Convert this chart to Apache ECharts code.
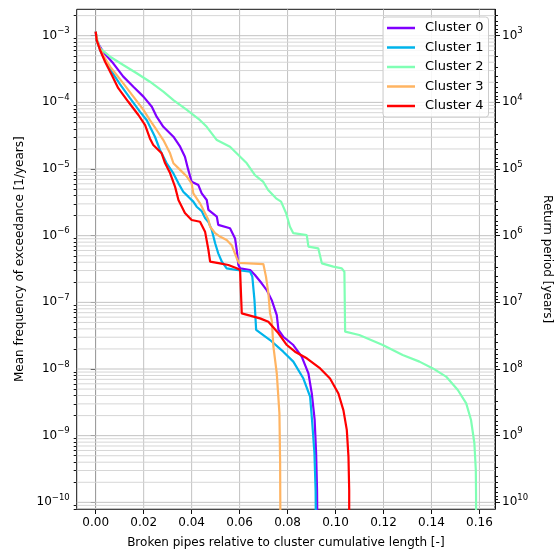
<!DOCTYPE html>
<html><head><meta charset="utf-8">
<script src="https://cdn.jsdelivr.net/npm/echarts@6/dist/echarts.min.js"></script>
<style>html,body{margin:0;padding:0;background:#fff}#c{width:556px;height:553px}</style>
</head><body><div id="c"></div>
<script>
// ---------------- data ----------------
const clusterNames = ['Cluster 0', 'Cluster 1', 'Cluster 2', 'Cluster 3', 'Cluster 4'];

const x0 = [0, 0.0004, 0.0018, 0.0036, 0.0073, 0.0115, 0.0157, 0.0199, 0.0234, 0.0254, 0.0282, 0.0324, 0.0352, 0.0372, 0.0386, 0.0400, 0.0428, 0.0442, 0.0463, 0.0470, 0.0505, 0.0511, 0.0560, 0.0581, 0.0588, 0.0595, 0.0602, 0.0644, 0.0664, 0.0692, 0.0713, 0.0734, 0.0755, 0.0762, 0.0782, 0.0824, 0.0859, 0.0887, 0.0901, 0.0913, 0.0919, 0.0923, 0.0924];
const y0 = [1.15e-3, 8.6e-4, 6.8e-4, 5.44e-4, 3.85e-4, 2.43e-4, 1.72e-4, 1.22e-4, 8.6e-5, 6.1e-5, 4.3e-5, 3.05e-5, 2.16e-5, 1.53e-5, 9.7e-6, 6.45e-6, 5.75e-6, 4.32e-6, 3.43e-6, 2.43e-6, 1.93e-6, 1.45e-6, 1.29e-6, 9.1e-7, 6.1e-7, 3.63e-7, 3.24e-7, 3.06e-7, 2.57e-7, 1.93e-7, 1.53e-7, 1.08e-7, 6.45e-8, 3.85e-8, 3.05e-8, 2.29e-8, 1.53e-8, 8.6e-9, 4.3e-9, 1.72e-9, 5.5e-10, 1.5e-10, 5e-11];

const x1 = [0, 0.0004, 0.0018, 0.0039, 0.0068, 0.0101, 0.0143, 0.0185, 0.0213, 0.0247, 0.0268, 0.0296, 0.0324, 0.0345, 0.0365, 0.0386, 0.0407, 0.0421, 0.0442, 0.0456, 0.0470, 0.0484, 0.0498, 0.0511, 0.0526, 0.0546, 0.0588, 0.0644, 0.0653, 0.0662, 0.0669, 0.0727, 0.0782, 0.0824, 0.0866, 0.0894, 0.0902, 0.0912, 0.0917, 0.0918];
const y1 = [1.15e-3, 8.6e-4, 6.1e-4, 4.3e-4, 2.85e-4, 1.88e-4, 1.16e-4, 7.2e-5, 5.4e-5, 3.05e-5, 1.93e-5, 1.22e-5, 8.6e-6, 6.1e-6, 4.57e-6, 3.85e-6, 3.24e-6, 2.72e-6, 2.34e-6, 1.84e-6, 1.6e-6, 1.22e-6, 7.7e-7, 5.44e-7, 4.07e-7, 3.24e-7, 3.06e-7, 2.88e-7, 2.43e-7, 1.08e-7, 3.85e-8, 2.72e-8, 1.82e-8, 1.29e-8, 7.2e-9, 3.85e-9, 1.72e-9, 5.5e-10, 1.5e-10, 5e-11];

const x2 = [0, 0.0008, 0.0018, 0.0060, 0.0115, 0.0171, 0.0226, 0.0282, 0.0324, 0.0380, 0.0435, 0.0463, 0.0505, 0.0560, 0.0595, 0.0630, 0.0664, 0.0699, 0.0719, 0.0752, 0.0773, 0.0794, 0.0810, 0.0824, 0.0880, 0.0887, 0.0928, 0.0943, 0.0991, 0.1026, 0.1037, 0.1040, 0.1099, 0.1197, 0.1280, 0.1350, 0.1406, 0.1461, 0.1510, 0.1545, 0.1565, 0.1579, 0.1585, 0.1586, 0.1586];
const y2 = [1.15e-3, 8.2e-4, 6.47e-4, 4.84e-4, 3.63e-4, 2.73e-4, 2.04e-4, 1.45e-4, 1.08e-4, 7.7e-5, 5.4e-5, 4.3e-5, 2.72e-5, 2.16e-5, 1.62e-5, 1.22e-5, 8.1e-6, 6.4e-6, 4.84e-6, 3.63e-6, 3.24e-6, 2.17e-6, 1.36e-6, 1.09e-6, 1.02e-6, 6.84e-7, 6.46e-7, 3.85e-7, 3.43e-7, 3.24e-7, 2.88e-7, 3.63e-8, 3.24e-8, 2.29e-8, 1.62e-8, 1.29e-8, 1.02e-8, 7.7e-9, 4.84e-9, 3.05e-9, 1.72e-9, 7.7e-10, 3.05e-10, 1.3e-10, 5e-11];

const x3 = [0, 0.0004, 0.0018, 0.0035, 0.0060, 0.0115, 0.0157, 0.0199, 0.0226, 0.0254, 0.0282, 0.0310, 0.0324, 0.0352, 0.0380, 0.0400, 0.0407, 0.0435, 0.0456, 0.0470, 0.0477, 0.0498, 0.0518, 0.0546, 0.0567, 0.0588, 0.0598, 0.0699, 0.0706, 0.0710, 0.0720, 0.0727, 0.0734, 0.0741, 0.0755, 0.0766, 0.0769, 0.0770];
const y3 = [1.15e-3, 8.6e-4, 6.3e-4, 4.8e-4, 3.43e-4, 1.93e-4, 1.22e-4, 7.7e-5, 5.4e-5, 3.85e-5, 2.72e-5, 1.72e-5, 1.22e-5, 9.7e-6, 7.7e-6, 6.1e-6, 4.32e-6, 3.06e-6, 2.17e-6, 1.72e-6, 1.36e-6, 1.09e-6, 9.7e-7, 8.6e-7, 7.2e-7, 4.6e-7, 3.9e-7, 3.75e-7, 3.5e-7, 2.43e-7, 1.36e-7, 6.84e-8, 5.4e-8, 2.16e-8, 8.6e-9, 2.16e-9, 3.9e-10, 5e-11];

const x4 = [0, 0.0004, 0.0018, 0.0039, 0.0067, 0.0094, 0.0136, 0.0178, 0.0206, 0.0226, 0.0240, 0.0275, 0.0289, 0.0310, 0.0331, 0.0345, 0.0372, 0.0400, 0.0435, 0.0456, 0.0470, 0.0477, 0.0518, 0.0553, 0.0588, 0.0602, 0.0609, 0.0685, 0.0720, 0.0762, 0.0797, 0.0831, 0.0880, 0.0936, 0.0977, 0.1012, 0.1033, 0.1047, 0.1054, 0.1057, 0.1057];
const y4 = [1.15e-3, 8.6e-4, 6.1e-4, 4.07e-4, 2.57e-4, 1.63e-4, 1.02e-4, 6.46e-5, 4.57e-5, 2.88e-5, 2.29e-5, 1.72e-5, 1.23e-5, 8.7e-6, 5.4e-6, 3.43e-6, 2.19e-6, 1.72e-6, 1.62e-6, 1.15e-6, 6.1e-7, 4.07e-7, 3.85e-7, 3.63e-7, 3.24e-7, 3.06e-7, 6.84e-8, 5.75e-8, 5.1e-8, 3.43e-8, 2.29e-8, 1.82e-8, 1.45e-8, 1.02e-8, 7.2e-9, 4.3e-9, 2.4e-9, 1.22e-9, 4.8e-10, 1.5e-10, 5e-11];

const xTicks = [0, 0.02, 0.04, 0.06, 0.08, 0.10, 0.12, 0.14, 0.16];
const freqExponents = [-10, -9, -8, -7, -6, -5, -4, -3];
const returnExponents = [3, 4, 5, 6, 7, 8, 9, 10];
const minorFactors = [2, 3, 4, 5, 6, 7, 8, 9];

// ---------------- styling / layout ----------------
const colors = ['#8000ff', '#00b4eb', '#80ffb4', '#ffb462', '#ff0000'];
const X_MIN = -0.00793, X_MAX = 0.1665;
const LOG_LO = -10.1, LOG_HI = -2.604;
const Y_MIN = Math.pow(10, LOG_LO), Y_MAX = Math.pow(10, LOG_HI);
const R_MIN = Math.pow(10, -LOG_HI), R_MAX = Math.pow(10, -LOG_LO);

const xs = [x0, x1, x2, x3, x4];
const ys = [y0, y1, y2, y3, y4];

const freqMajor = freqExponents.map(e => Math.pow(10, e));
const retMajor = returnExponents.map(e => Math.pow(10, e));
const freqMinor = [];
for (let e = -11; e <= -3; e++) minorFactors.forEach(f => { const v = f * Math.pow(10, e); if (v > Y_MIN && v < Y_MAX) freqMinor.push(v); });
const retMinor = [];
for (let e = 2; e <= 10; e++) minorFactors.forEach(f => { const v = f * Math.pow(10, e); if (v > R_MIN && v < R_MAX) retMinor.push(v); });

const TXT = '#000';
const sup = v => {
  const e = Math.round(Math.log10(v));
  return '{b|10}{s|' + (e < 0 ? '\u2212' + (-e) : String(e)) + '}';
};
const rich = {
  b: { fontSize: 12, color: TXT, fontFamily: 'DejaVu Sans' },
  s: { fontSize: 8.5, color: TXT, fontFamily: 'DejaVu Sans', padding: [0, 0, 9, 0] }
};

// grid rows: [x, y, kind(0 vertical / 1 horizontal), major(1/0)]
const gridRows = []
  .concat(xTicks.map(v => [v, Y_MIN, 0, 1]))
  .concat(freqMinor.map(v => [X_MIN, v, 1, 0]))
  .concat(freqMajor.map(v => [X_MIN, v, 1, 1]));

const seriesList = [{
  name: '_grid', type: 'custom', coordinateSystem: 'cartesian2d', xAxisIndex: 0, yAxisIndex: 0,
  silent: true, z: 1, clip: false,
  dimensions: ['x', 'y', 'kind', 'major'], encode: { x: 0, y: 1 },
  data: gridRows,
  renderItem: (params, api) => {
    const kind = api.value(2), major = api.value(3);
    let p1, p2;
    if (kind === 0) { const v = api.value(0); p1 = api.coord([v, Y_MIN]); p2 = api.coord([v, Y_MAX]); }
    else { const v = api.value(1); p1 = api.coord([X_MIN, v]); p2 = api.coord([X_MAX, v]); }
    return { type: 'line', shape: { x1: p1[0], y1: p1[1], x2: p2[0], y2: p2[1] },
      style: { stroke: major ? '#c2c2c2' : '#d6d6d6', lineWidth: 1 } };
  }
}].concat(clusterNames.map((n, i) => ({
  name: n, type: 'line', xAxisIndex: 0, yAxisIndex: 0,
  data: xs[i].map((x, k) => [x, ys[i][k]]),
  showSymbol: false, symbol: 'none', z: 3, clip: true,
  lineStyle: { width: 2.2, color: colors[i] }, itemStyle: { color: colors[i] }
})));

const chart = echarts.init(document.getElementById('c'), null, { renderer: 'canvas' });
chart.setOption({
  animation: false,
  backgroundColor: '#fff',
  textStyle: { fontFamily: 'DejaVu Sans' },
  grid: { left: 76.7, right: 61, top: 9.3, bottom: 44, outerBoundsMode: 'none', containLabel: false,
    show: true, borderColor: '#111', borderWidth: 1, backgroundColor: 'transparent' },
  legend: {
    data: clusterNames, orient: 'vertical', left: 383, top: 17,
    icon: 'rect', itemWidth: 28, itemHeight: 2.5, itemGap: 5.5,
    padding: [4, 5, 4, 4],
    backgroundColor: 'rgba(255,255,255,0.85)', borderColor: '#cccccc', borderWidth: 1, borderRadius: 3,
    textStyle: { fontSize: 13, lineHeight: 14, color: TXT, fontFamily: 'DejaVu Sans', padding: [0, 0, 0, 5] }
  },
  xAxis: [{
    type: 'value', min: X_MIN, max: X_MAX, position: 'bottom',
    axisLine: { show: true, onZero: false, lineStyle: { color: '#111' } },
    axisTick: { show: true, length: 5, lineStyle: { color: '#111' }, customValues: xTicks },
    axisLabel: { customValues: xTicks, formatter: v => v.toFixed(2), fontSize: 12, color: TXT, margin: 8 },
    splitLine: { show: false },
    name: 'Broken pipes relative to cluster cumulative length [-]',
    nameLocation: 'middle', nameGap: 28, nameTextStyle: { fontSize: 12, color: TXT }
  }],
  yAxis: [{
    type: 'log', logBase: 10, min: Y_MIN, max: Y_MAX, position: 'left',
    axisLine: { show: true, lineStyle: { color: '#111' } },
    axisTick: { show: true, length: 5, lineStyle: { color: '#111' }, customValues: freqMajor },
    axisLabel: { customValues: freqMajor, formatter: sup, rich: rich, margin: 7 },
    splitLine: { show: false }, minorTick: { show: false },
    name: 'Mean frequency of exceedance [1/years]', nameLocation: 'middle', nameGap: 50, nameRotate: 90,
    nameTextStyle: { fontSize: 12, color: TXT }
  }, {
    type: 'log', logBase: 10, min: R_MIN, max: R_MAX, inverse: true, position: 'right',
    axisLine: { show: true, lineStyle: { color: '#111' } },
    axisTick: { show: true, length: 5, lineStyle: { color: '#111' }, customValues: retMajor },
    axisLabel: { customValues: retMajor, formatter: sup, rich: rich, margin: 7 },
    splitLine: { show: false },
    name: 'Return period [years]', nameLocation: 'middle', nameGap: 46, nameRotate: -90,
    nameTextStyle: { fontSize: 12, color: TXT }
  }, {
    type: 'log', logBase: 10, min: Y_MIN, max: Y_MAX, position: 'left',
    axisLine: { show: false }, axisLabel: { show: false }, splitLine: { show: false },
    axisTick: { show: true, length: 3, lineStyle: { color: '#111' }, customValues: freqMinor }
  }, {
    type: 'log', logBase: 10, min: R_MIN, max: R_MAX, inverse: true, position: 'right',
    axisLine: { show: false }, axisLabel: { show: false }, splitLine: { show: false },
    axisTick: { show: true, length: 3, lineStyle: { color: '#111' }, customValues: retMinor }
  }],
  series: seriesList
});
</script>
</body></html>
